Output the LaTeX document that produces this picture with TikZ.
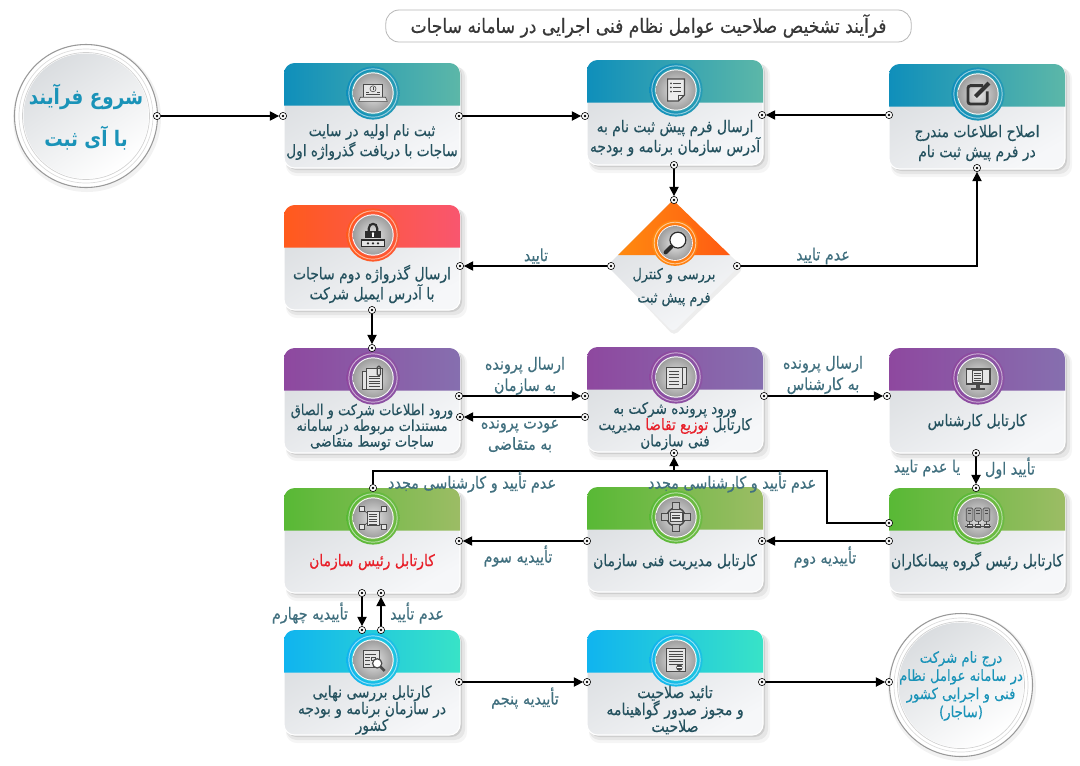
\documentclass[tikz,border=0pt]{standalone}
\usepackage{fontspec}
\usetikzlibrary{arrows.meta,shapes.geometric}
\newfontfamily\farsi[Script=Arabic,FakeStretch=0.86,FakeBold=0.35]{DejaVu Sans}
\newfontfamily\farsibold[Script=Arabic,FakeStretch=0.86]{DejaVu Sans Bold}
\TeXXeTstate=1
\lineskiplimit=-30pt
\normallineskiplimit=-30pt
\newcommand\fa[1]{\beginR #1\endR}
\newcommand\cfs{\fontsize{12.1}{15}\selectfont}
\definecolor{tealA}{HTML}{0F8FBB}\definecolor{tealB}{HTML}{5CB7A8}
\definecolor{redA}{HTML}{FF5A1C}\definecolor{redB}{HTML}{F9566F}
\definecolor{purA}{HTML}{8E489F}\definecolor{purB}{HTML}{866FAF}
\definecolor{grnA}{HTML}{58B935}\definecolor{grnB}{HTML}{9CBC65}
\definecolor{cyaA}{HTML}{10B4EF}\definecolor{cyaB}{HTML}{38E3C7}
\definecolor{orgA}{HTML}{FF8A10}\definecolor{orgB}{HTML}{FF5A12}
\definecolor{bodyL}{HTML}{DADDE0}\definecolor{bodyR}{HTML}{F6F7F9}
\definecolor{cardink}{HTML}{25525F}\definecolor{lblink}{HTML}{41707F}
\definecolor{circink}{HTML}{1A93B8}\definecolor{icink}{HTML}{4A4A4A}
\definecolor{redtxt}{HTML}{E8202A}
\tikzset{
  x=.75pt,y=-.75pt,
  dotn/.style={circle,draw=black,fill=white,line width=.45pt,minimum size=5.4pt,inner sep=0pt,
    path picture={\fill[black] (path picture bounding box.center) circle (1pt);}},
  conn/.style={draw=black,line width=1.05pt},
  arr/.style={conn,-{Triangle[length=7pt,width=7pt]}},
  cardtxt/.style={font=\farsi\cfs,text=cardink,align=center,inner sep=0pt},
  lbl/.style={font=\farsi\fontsize{12.5}{16}\selectfont,text=lblink,align=center,inner sep=0pt},
  icl/.style={draw=icink,line width=.45pt},
  icw/.style={draw=icink,line width=.5pt,fill=white!90!black},
}
% ---- icons, centred on the origin, in reference pixels
\newcommand\icLaptop{
  \draw[icw] (-11,-10) rectangle (11,5);
  \draw[icw] (-15,5)--(15,5)--(17,10)--(-17,10)--cycle;
  \draw[icl] (0,-5) circle (3.6); \draw[icl] (0,-3)--(0,-7);
  \draw[icl] (-8,-1)--(-5,-1) (5,-1)--(8,-1) (-8,2)--(8,2);
}
\newcommand\icList{
  \draw[icl,line width=.9pt,fill=white!92!black] (-10,-13)--(10,-13)--(10,6)--(3,13)--(-10,13)--cycle;
  \draw[icl,line width=.8pt] (3,13)--(3,6)--(10,6);
  \foreach \yy in {-8,-3,2}{\fill[icink] (-6,\yy) circle (1.2); \draw[icl,line width=.8pt] (-3,\yy)--(6,\yy);}
}
\newcommand\icEdit{
  \draw[icink!70!black,line width=2.1pt,rounded corners=2] (6,-10)--(-12,-10)--(-12,12)--(11,12)--(11,-3);
  \draw[icink!70!black,line width=3pt] (-3,3)--(13,-13);
}
\newcommand\icMag{
  \draw[icink!60!black,line width=.9pt,fill=white] (4,-4) circle (11);
  \draw[icink!60!black,line width=3pt,line cap=round] (-5,5)--(-13,13);
}
\newcommand\icLock{
  \draw[icink!60!black,line width=1.6pt] (-5,-4) -- (-5,-8) .. controls (-5,-15) and (5,-15) .. (5,-8) -- (5,-4);
  \fill[icink!60!black] (-9,-5) rectangle (9,4);
  \fill[white] (0,-2) circle (1.5); \fill[white] (-.7,-2) rectangle (.7,2);
  \draw[icw,draw=icink!60!black,line width=.9pt] (-14,6) rectangle (14,14);
  \foreach \xx in {-6,0,6}{\fill[icink!60!black] (\xx,10) circle (1.5);}
}
\newcommand\icDocs{
  \draw[icw] (-13,-8) rectangle (5,13);
  \draw[icw] (-8,-12) rectangle (11,14);
  \foreach \yy in {-2,1,4,7,10}{\draw[icl,line width=.7pt] (-5,\yy)--(8,\yy);}
  \draw[icl,line width=.9pt,rounded corners=1] (5,-14) rectangle (9,-3);
}
\newcommand\icDocB{
  \draw[icw] (-6,-12) rectangle (12,9);
  \draw[icw] (-12,-11) rectangle (7,13);
  \foreach \yy in {-7,-3,1,5,9}{\draw[icl,line width=.7pt] (-8,\yy)--(3,\yy);}
}
\newcommand\icMon{
  \draw[icink,line width=1.1pt,fill=white!90!black] (-14,-11) rectangle (14,7);
  \draw[icw] (-7,-9) rectangle (5,5);
  \foreach \yy in {-6,-3,0,3}{\draw[icl] (-5,\yy)--(3,\yy);}
  \fill[icink] (-2,7) rectangle (2,12); \fill[icink] (-8,12) rectangle (8,14);
}
\newcommand\icOrg{
  \foreach \xx/\yy in {-13/-11,13/-11,-13/11,13/11}{\draw[icl] (\xx,\yy)--(0,0);\draw[icw] (\xx-3,\yy-3) rectangle (\xx+3,\yy+3);}
  \draw[icw] (-7,-8) rectangle (7,9);
  \foreach \yy in {-5,-2,1,4,7}{\draw[icl] (-5,\yy)--(5,\yy);}
}
\newcommand\icHub{
  \draw[icink,line width=1.1pt] (0,0) circle (11);
  \foreach \xx/\yy in {0/-13,0/13,-13/0,13/0}{\draw[icw,fill=white!75!black] (\xx-4,\yy-4) rectangle (\xx+4,\yy+4);}
  \draw[icw] (-7,-5) rectangle (7,5);
  \foreach \yy in {-2,0,2}{\draw[icl] (-5,\yy)--(5,\yy);}
}
\newcommand\icSrv{
  \foreach \xx in {-10,0,10}{
    \draw[icw,fill=white!65!black,rounded corners=1] (\xx-4,-12) rectangle (\xx+4,4);
    \draw[icl] (\xx-2,-9)--(\xx+2,-9) (\xx-2,-6)--(\xx+2,-6);
    \draw[icl] (\xx,4)--(\xx,9);
    \draw[icw] (\xx-3,8) rectangle (\xx+3,11);}
  \draw[icl] (-15,9.5)--(15,9.5);
}
\newcommand\icDocMag{
  \draw[icw] (-12,-11) rectangle (7,9);
  \draw[icl,line width=.8pt] (-9,-7)--(4,-7) (-9,-3)--(-3,-3) (-9,1)--(-3,1) (-9,5)--(-3,5);
  \draw[icl,line width=.8pt] (-2,-3) rectangle (3,1);
  \draw[icink,line width=.9pt,fill=white] (5,4) circle (5.5);
  \draw[icink,line width=2pt] (9,8)--(14,13);
}
\newcommand\icCert{
  \draw[icw,line width=.9pt] (-11,-14) rectangle (11,14);
  \foreach \yy in {-10,-7,-4,-1,2,5}{\draw[icl,line width=.7pt] (-8,\yy)--(8,\yy);}
  \fill[icink] (4,9) circle (3.8); \draw[white,line width=.6pt] (1,9)--(7,9);
}
% ---- ring that holds an icon: centre x, y, scale, colours, icon
\newcommand\ringicon[6]{
  \begin{scope}[shift={(#1,#2)},scale=#3]
    \shade[left color=#4,right color=#4!70!#5] (0,0) circle (26.6);
    \draw[white,opacity=.55,line width=.7pt] (0,0) circle (24.2);
    \fill[#4!55!#5] (0,0) circle (21.8);
    \fill[white] (0,0) circle (20.7);
    \shade[inner color=white!90!black,outer color=white!62!black] (0,0) circle (19.7);
    \begin{scope}[scale=.84]
    #6
    \end{scope}
  \end{scope}
}
% ---- card: name, left, top, colour A, colour B, icon, text centre below top, text
\newcommand\card[8]{
  \begin{scope}[shift={(#2,#3)}]
    \fill[black,opacity=.04,rounded corners=8] (2,4) rectangle (183,113);
    \fill[black,opacity=.06,rounded corners=8] (2,3) rectangle (181,110);
    \fill[black,opacity=.10,rounded corners=8] (2,2) rectangle (178,107);
    \shade[shading=axis,left color=bodyL,right color=bodyR,shading angle=30,draw=white,line width=.8pt,rounded corners=8] (0,0) rectangle (176,105);
    \shade[left color=#4,right color=#5] (0,42.5) {[rounded corners=8] -- (0,0) -- (176,0)} -- (176,42.5) -- cycle;
  \end{scope}
  \ringicon{\the\numexpr#2+89\relax}{\the\numexpr#3+30\relax}{1}{#4}{#5}{#6}
  \node[cardtxt] (#1) at (#2+88,#3+#7) {#8};
  \renewcommand\cfs{\fontsize{12.1}{15}\selectfont}
}
% ---- large round node
\newcommand\roundbg[2]{
  \fill[black,opacity=.05] (#1+1,#2+2) circle (74);
  \fill[white] (#1,#2) circle (72);
  \draw[black!40,line width=.8pt] (#1,#2) circle (71.5);
  \draw[black!14,line width=.5pt] (#1,#2) circle (67);
  \draw[black!18,line width=.5pt] (#1,#2) circle (63.5);
  \shade[shading=axis,left color=bodyL,right color=white,shading angle=35] (#1,#2) circle (62.5);
}
\begin{document}
\begin{tikzpicture}
\useasboundingbox (0,0) rectangle (1080,765);
\fill[white] (0,0) rectangle (1080,765);

% title
\node[draw=black!28,line width=.6pt,rounded corners=10pt,minimum width=394pt,minimum height=24pt,inner sep=0pt,fill=white,
      font=\farsi\fontsize{14.9}{16}\selectfont,text=black!78] (title) at (648.5,26)
      {\fa{فرآیند تشخیص صلاحیت عوامل نظام فنی اجرایی در سامانه ساجات}};

% start and end
\roundbg{86}{116}
\node[font=\farsibold\fontsize{16}{31}\selectfont,text=circink,align=center,inner sep=0pt] (start) at (86,117)
  {\fa{شروع فرآیند}\\\fa{با آی ثبت}};
\roundbg{961}{685}
\node[font=\farsi\fontsize{11.5}{13.6}\selectfont,text=circink,align=center,inner sep=0pt] (finish) at (961,686)
  {\fa{درج نام شرکت}\\\fa{در سامانه عوامل نظام}\\\fa{فنی و اجرایی کشور}\\\fa{(ساجار)}};

% cards
\renewcommand\cfs{\fontsize{11.9}{15}\selectfont}
\card{reg}{284}{63}{tealA}{tealB}{\icLaptop}{79}{\fa{ثبت نام اولیه در سایت}\\\fa{ساجات با دریافت گذرواژه اول}}
\card{send}{587}{60}{tealA}{tealB}{\icList}{78}{\fa{ارسال فرم پیش ثبت نام به}\\\fa{آدرس سازمان برنامه و بودجه}}
\card{fix}{889}{64}{tealA}{tealB}{\icEdit}{79}{\fa{اصلاح اطلاعات مندرج}\\\fa{در فرم پیش ثبت نام}}
\card{pass}{284}{205}{redA}{redB}{\icLock}{79}{\fa{ارسال گذرواژه دوم ساجات}\\\fa{با آدرس ایمیل شرکت}}
\renewcommand\cfs{\fontsize{11.3}{11.8}\selectfont}
\card{docs}{284}{348}{purA}{purB}{\icDocs}{79}{\fa{ورود اطلاعات شرکت و الصاق}\\\fa{مستندات مربوطه در سامانه}\\\fa{ساجات توسط متقاضی}}
\renewcommand\cfs{\fontsize{11.8}{12.2}\selectfont}
\card{dist}{587}{347}{purA}{purB}{\icDocB}{79}{\fa{ورود پرونده شرکت به}\\\textcolor{cardink}{\fa{مدیریت}} \textcolor{redtxt}{\fa{توزیع تقاضا}} \textcolor{cardink}{\fa{کارتابل}}\\\fa{فنی سازمان}}
\card{expert}{889}{348}{purA}{purB}{\icMon}{74}{\fa{کارتابل کارشناس}}
\card{head}{284}{488}{grnA}{grnB}{\icOrg}{74}{\textcolor{redtxt}{\fa{کارتابل رئیس سازمان}}}
\card{tech}{587}{487}{grnA}{grnB}{\icHub}{75}{\fa{کارتابل مدیریت فنی سازمان}}
\renewcommand\cfs{\fontsize{12.2}{15}\selectfont}
\card{group}{889}{488}{grnA}{grnB}{\icSrv}{73}{\fa{کارتابل رئیس گروه پیمانکاران}}
\renewcommand\cfs{\fontsize{12}{12.5}\selectfont}
\card{final}{284}{630}{cyaA}{cyaB}{\icDocMag}{80}{\fa{کارتابل بررسی نهایی}\\\fa{در سازمان برنامه و بودجه}\\\fa{کشور}}
\renewcommand\cfs{\fontsize{12.3}{12.7}\selectfont}
\card{cert}{587}{630}{cyaA}{cyaB}{\icCert}{80}{\fa{تائید صلاحیت}\\\fa{و مجوز صدور گواهینامه}\\\fa{صلاحیت}}

% diamond
\fill[black,opacity=.07,rounded corners=4] (674,204)--(744,268)--(674,336)--(610,268)--cycle;
\shade[shading=axis,left color=bodyL,right color=bodyR,shading angle=30,rounded corners=3] (673,200)--(739,266)--(673,332)--(607,266)--cycle;
\shade[left color=orgA,right color=orgB] (618,255)--(673,200)--(730,255)--cycle;
\ringicon{675}{243}{.86}{orgA}{orgB}{\icMag}
\renewcommand\cfs{\fontsize{11.2}{17.5}\selectfont}
\node[cardtxt] (check) at (674,287) {\fa{بررسی و کنترل}\\\fa{فرم پیش ثبت}};

% connection dots
\foreach \nm/\xx/\yy in {
  pStartR/157/116, pRegL/283/116, pRegR/459/116, pSendL/585/116, pSendR/762/115, pFixL/889/115,
  pSendB/674/165, pChkT/674/200, pChkL/611/266, pChkR/737/266, pPassR/460/266, pFixB/977/168,
  pPassB/372/310, pDocsT/372/348, pDocsR/459/396, pDistL/585/396, pDistLb/585/417, pDocsRb/460/417,
  pDistR/764/396, pExpL/887/396, pExpB/976/453, pGrpT/976/488, pGrpLa/889/523, pGrpLb/889/541,
  pTechR/762/541, pTechL/587/541, pHeadR/459/541, pHeadT/373/488, pDistB/674/453,
  pHeadBa/362/593, pFinTa/362/630, pFinTb/381/630, pHeadBb/381/593,
  pFinR/459/682, pCertL/587/682, pCertR/762/682, pEndL/889/682}
  {\node[dotn] (\nm) at (\xx,\yy) {};}

% routing points
\coordinate (vA) at (977,266);
\coordinate (vB) at (827,523);
\coordinate (vC) at (827,471);
\coordinate (vD) at (373,471);
\coordinate (vE) at (674,471);

% connectors
\draw[arr] (pStartR) -- (pRegL);
\draw[arr] (pRegR) -- (pSendL);
\draw[arr] (pFixL) -- (pSendR);
\draw[arr] (pSendB) -- (pChkT);
\draw[arr] (pChkL) -- (pPassR);
\draw[arr] (pChkR) -- (vA) -- (pFixB);
\draw[arr] (pPassB) -- (pDocsT);
\draw[arr] (pDocsR) -- (pDistL);
\draw[arr] (pDistLb) -- (pDocsRb);
\draw[arr] (pDistR) -- (pExpL);
\draw[arr] (pExpB) -- (pGrpT);
\draw[conn] (pGrpLa) -- (vB) -- (vC) -- (vD) -- (pHeadT);
\draw[arr] (vE) -- (pDistB);
\draw[arr] (pGrpLb) -- (pTechR);
\draw[arr] (pTechL) -- (pHeadR);
\draw[arr] (pHeadBa) -- (pFinTa);
\draw[arr] (pFinTb) -- (pHeadBb);
\draw[arr] (pFinR) -- (pCertL);
\draw[arr] (pCertR) -- (pEndL);

% connector labels
\node[lbl] (l1) at (536,256) {\fa{تایید}};
\node[lbl] (l2) at (823,256) {\fa{عدم تایید}};
\node[lbl] (l3) at (525,376) {\fa{ارسال پرونده}\\\fa{به سازمان}};
\node[lbl] (l4) at (520,436) {\fa{عودت پرونده}\\\fa{به متقاضی}};
\node[lbl] (l5) at (823,375) {\fa{ارسال پرونده}\\\fa{به کارشناس}};
\node[lbl] (l6) at (1010,468) {\fa{تأیید اول}};
\node[lbl] (l7) at (927,468) {\fa{یا عدم تایید}};
\node[lbl] (l8) at (732,482) {\fa{عدم تأیید و کارشناسی مجدد}};
\node[lbl] (l9) at (472,482) {\fa{عدم تأیید و کارشناسی مجدد}};
\node[lbl] (l10) at (825,557) {\fa{تأییدیه دوم}};
\node[lbl] (l11) at (518,556) {\fa{تأییدیه سوم}};
\node[lbl] (l12) at (310,613) {\fa{تأییدیه چهارم}};
\node[lbl] (l13) at (417,613) {\fa{عدم تأیید}};
\node[lbl] (l14) at (525,698) {\fa{تأییدیه پنجم}};
\end{tikzpicture}
\end{document}
